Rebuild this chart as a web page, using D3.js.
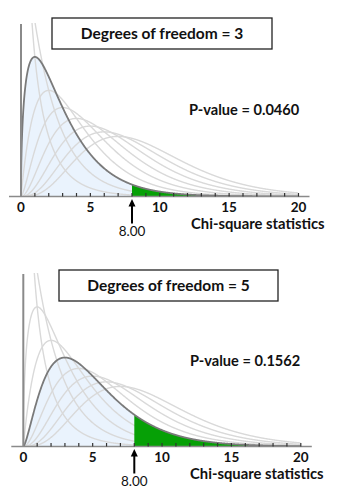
<!DOCTYPE html>
<html><head><meta charset="utf-8">
<script src="https://cdn.jsdelivr.net/npm/d3@7"></script>
<style>
html,body{margin:0;padding:0;background:#fff;}
svg{display:block;}
text{font-family:Lato,"Open Sans",sans-serif;font-weight:700;fill:#111;}
</style></head>
<body>
<svg id="c" width="351" height="503"></svg>
<script>
// ---- data ----
const backgroundDfs = [1, 2, 3, 4, 5, 6, 7, 8, 9];
const highlightDfs = [3, 5];
const criticalValue = 8.00;
const criticalLabel = "8.00";
const pValueLabels = ["0.0460", "0.1562"];
const xTickValues = [0, 5, 10, 15, 20];
const xMinorTicks = d3.range(1, 21);
const xDomain = [0, 20];
const yDomain = [0, 0.30];
const xAxisTitle = "Chi-square statistics";

// ---- chi-square density ----
function gammaHalf(k) { // Gamma(k/2)
  let g = (k % 2 === 0) ? 1 : Math.sqrt(Math.PI);
  let v = (k % 2 === 0) ? 1 : 0.5;
  while (v < k / 2 - 1e-9) { g *= v; v += 1; }
  return g;
}
function chiPdf(x, k) {
  if (x <= 0) return k === 2 ? 0.5 : (k < 2 ? 10 : 0);
  return Math.pow(x, k / 2 - 1) * Math.exp(-x / 2) / (Math.pow(2, k / 2) * gammaHalf(k));
}

const svg = d3.select("#c");
const panels = [
  {x0: 21, baseline: 196.5, top: 23, box: [52, 18, 220, 31], pv: [189, 115], title: [191]},
  {x0: 23.3, baseline: 446.5, top: 273, box: [59, 270, 219, 31], pv: [190, 366], title: [190]}
];

panels.forEach((p, i) => {
  const df = highlightDfs[i];
  const x = d3.scaleLinear().domain(xDomain).range([p.x0, p.x0 + 277.5]);
  const y = d3.scaleLinear().domain(yDomain).range([p.baseline, p.baseline - 0.30 * 577]);
  const g = svg.append("g");
  const clipId = "clip" + i;
  g.append("clipPath").attr("id", clipId).append("rect")
    .attr("x", p.x0).attr("y", p.top).attr("width", 300).attr("height", p.baseline - p.top);

  const xs = d3.range(0.002, 20.001, 0.02);
  const line = d3.line().x(d => x(d[0])).y(d => y(d[1]));
  const area = d3.area().x(d => x(d[0])).y0(y(0)).y1(d => y(d[1]));

  const plot = g.append("g").attr("clip-path", `url(#${clipId})`);
  // left (blue) area
  const leftPts = [[0, chiPdf(0, df)]].concat(xs.filter(v => v <= criticalValue).map(v => [v, chiPdf(v, df)]));
  leftPts.push([criticalValue, chiPdf(criticalValue, df)]);
  plot.append("path").attr("d", area(leftPts)).attr("fill", "#eaf3fd");

  // background curves
  backgroundDfs.filter(k => k !== df).forEach(k => {
    plot.append("path").attr("d", line(xs.map(v => [v, chiPdf(v, k)])))
      .attr("fill", "none").attr("stroke", "#d9d9d9").attr("stroke-width", 1.4);
  });
  // right (green) area, drawn over background curves
  const rightPts = [[criticalValue, chiPdf(criticalValue, df)]].concat(xs.filter(v => v > criticalValue).map(v => [v, chiPdf(v, df)]));
  plot.append("path").attr("d", area(rightPts)).attr("fill", "#06a006");
  // highlighted curve
  plot.append("path").attr("d", line([[0, chiPdf(0, df)]].concat(xs.map(v => [v, chiPdf(v, df)]))))
    .attr("fill", "none").attr("stroke", "#7a7a7a").attr("stroke-width", 1.8);

  // y axis line
  g.append("line").attr("x1", x(0)).attr("x2", x(0)).attr("y1", p.top + 1).attr("y2", p.baseline)
    .attr("stroke", "#8a8a8a").attr("stroke-width", 2);
  // x axis line
  g.append("line").attr("x1", x(0) - 12).attr("x2", x(20) + 11).attr("y1", p.baseline).attr("y2", p.baseline)
    .attr("stroke", "#8a8a8a").attr("stroke-width", 1.6);
  // minor ticks
  g.selectAll("line.mt").data(xMinorTicks).enter().append("line")
    .attr("x1", d => x(d)).attr("x2", d => x(d)).attr("y1", p.baseline - 3.5).attr("y2", p.baseline)
    .attr("stroke", "#333").attr("stroke-width", 1.2);
  // tick labels
  g.selectAll("text.tl").data(xTickValues).enter().append("text")
    .attr("x", d => x(d)).attr("y", p.baseline + 15).attr("text-anchor", "middle")
    .style("font-size", "13.5px").style("font-weight", 700).text(d => d);

  // arrow at critical value
  const ax = x(criticalValue);
  g.append("line").attr("x1", ax).attr("x2", ax).attr("y1", p.baseline + 8).attr("y2", p.baseline + 27)
    .attr("stroke", "#000").attr("stroke-width", 2);
  g.append("path").attr("d", `M${ax},${p.baseline + 2.5} L${ax - 3.5},${p.baseline + 10} L${ax + 3.5},${p.baseline + 10} Z`)
    .attr("fill", "#000");
  g.append("text").attr("x", ax).attr("y", p.baseline + 39.5).attr("text-anchor", "middle")
    .style("font-size", "13.5px").style("font-weight", 400).text(criticalLabel);

  // title box
  g.append("rect").attr("x", p.box[0]).attr("y", p.box[1]).attr("width", p.box[2]).attr("height", p.box[3])
    .attr("fill", "#fff").attr("stroke", "#222").attr("stroke-width", 1.3);
  g.append("text").attr("x", p.box[0] + p.box[2] / 2).attr("y", p.box[1] + 21).attr("text-anchor", "middle")
    .style("font-size", "15.5px").text(`Degrees of freedom = ${df}`);

  // p-value
  g.append("text").attr("x", p.pv[0]).attr("y", p.pv[1]).style("font-size", "14.6px")
    .text(`P-value = ${pValueLabels[i]}`);
  // axis title
  g.append("text").attr("x", p.title[0]).attr("y", p.baseline + 32).style("font-size", "14.8px")
    .text(xAxisTitle);
});
</script>
</body></html>
